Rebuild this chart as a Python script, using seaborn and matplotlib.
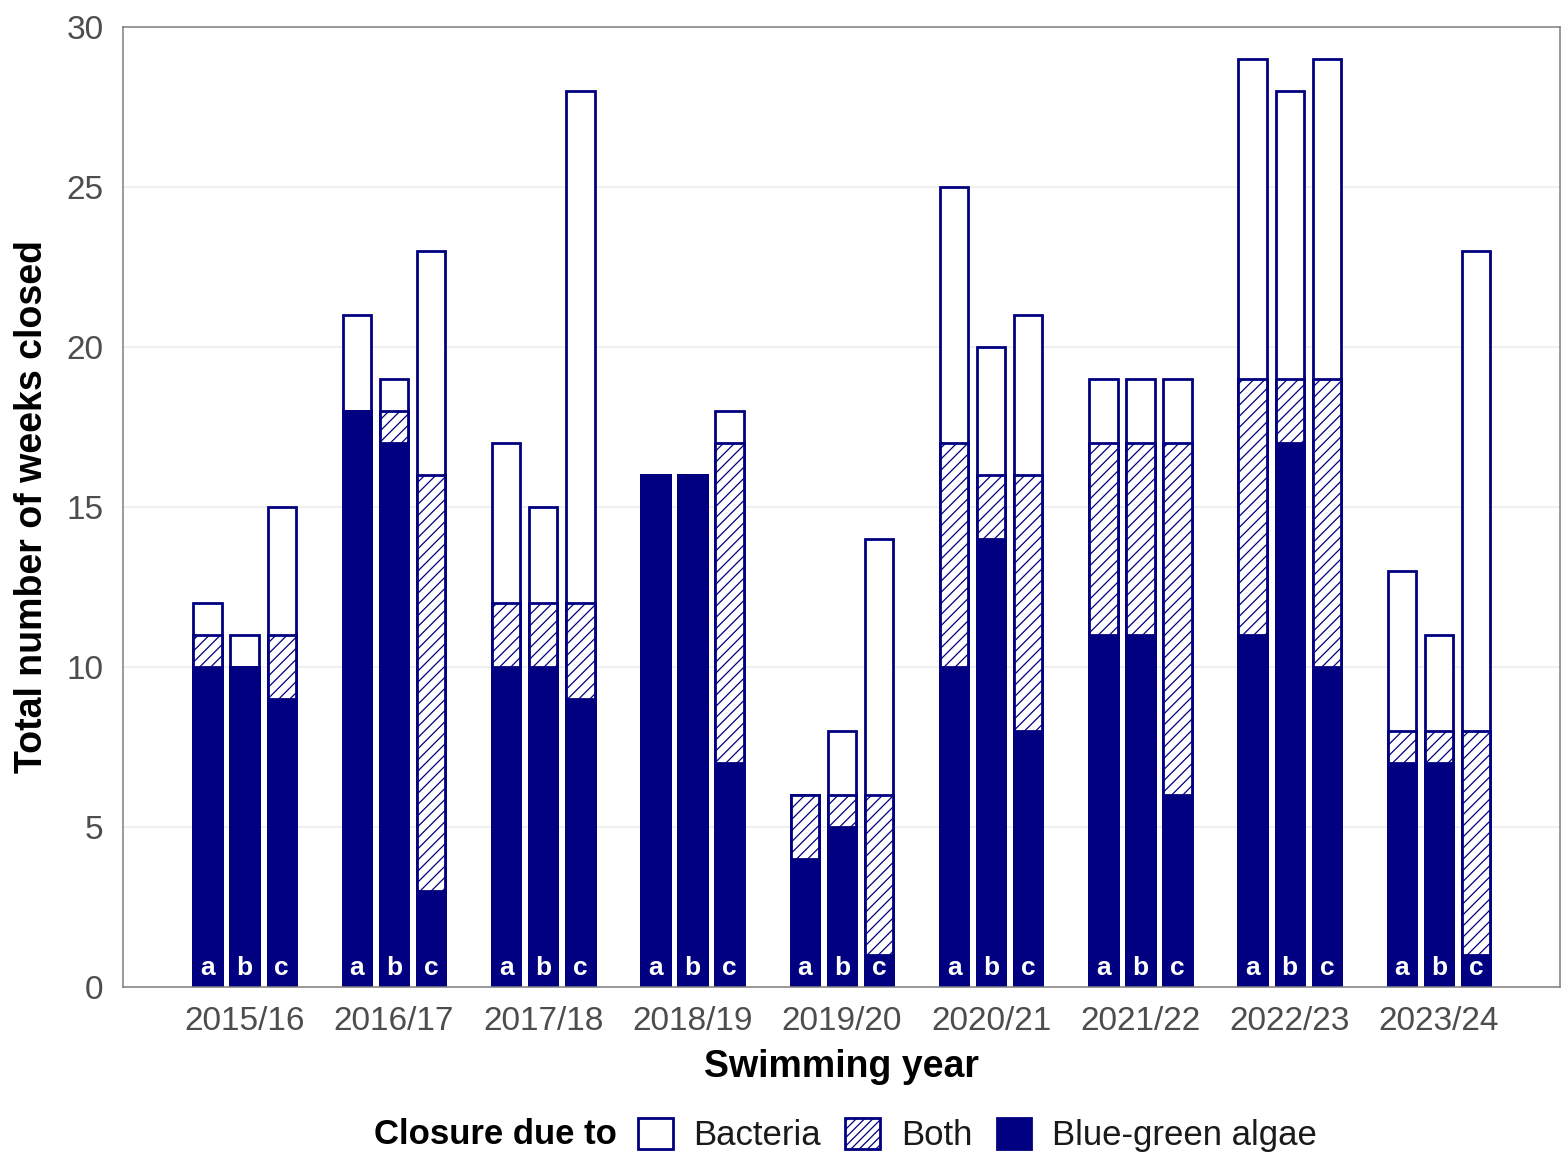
import numpy as np
import pandas as pd
import matplotlib
matplotlib.use("Agg")
import matplotlib.pyplot as plt
from matplotlib.patches import Patch
import seaborn as sns

# Swimming years and monitoring sites
years = ["2015/16", "2016/17", "2017/18", "2018/19", "2019/20",
         "2020/21", "2021/22", "2022/23", "2023/24"]
sites = ["a", "b", "c"]

# Weeks closed per site, split by cause
algae_a = [10, 18, 10, 16, 4, 10, 11, 11, 7]
both_a = [1, 0, 2, 0, 2, 7, 6, 8, 1]
bacteria_a = [1, 3, 5, 0, 0, 8, 2, 10, 5]

algae_b = [10, 17, 10, 16, 5, 14, 11, 17, 7]
both_b = [0, 1, 2, 0, 1, 2, 6, 2, 1]
bacteria_b = [1, 1, 3, 0, 2, 4, 2, 9, 3]

algae_c = [9, 3, 9, 7, 1, 8, 6, 10, 1]
both_c = [2, 13, 3, 10, 5, 8, 11, 9, 7]
bacteria_c = [4, 7, 16, 1, 8, 5, 2, 10, 15]

NAVY = "#000080"

rows = []
for site, alg, bth, bac in zip(sites, [algae_a, algae_b, algae_c],
                               [both_a, both_b, both_c],
                               [bacteria_a, bacteria_b, bacteria_c]):
    for yr, g, h, k in zip(years, alg, bth, bac):
        rows.append({"year": yr, "site": site, "algae": g,
                     "algae_both": g + h, "total": g + h + k})
df = pd.DataFrame(rows)

sns.set_theme(style="whitegrid", rc={
    "grid.color": "#EBEBEB", "grid.linewidth": 1.1,
    "axes.edgecolor": "#7F7F7F", "axes.linewidth": 1.1,
    "hatch.linewidth": 0.9,
    "text.color": "black",
})
plt.rcParams["font.family"] = ["Liberation Sans", "DejaVu Sans"]

fig = plt.figure(figsize=(15.63, 11.55), dpi=100)
ax = fig.add_axes([123 / 1563, 1 - 987 / 1155, (1560 - 123) / 1563, (987 - 27) / 1155])

common = dict(data=df, x="year", hue="site", hue_order=sites, order=years,
              width=0.745, gap=0.234, edgecolor=NAVY, linewidth=2.0,
              errorbar=None, saturation=1, legend=False, ax=ax)

# Stacked layers: total (bacteria on top), algae+both (hatched), algae (solid)
sns.barplot(y="total", palette={s: "white" for s in sites}, **common)
n0 = len(ax.patches)
sns.barplot(y="algae_both", palette={s: "white" for s in sites}, **common)
for p in ax.patches[n0:]:
    p.set_hatch("///")
sns.barplot(y="algae", palette={s: NAVY for s in sites}, **common)

# Site letters at the foot of each bar
for cont, letter in zip(ax.containers[-3:], sites):
    for p in cont.patches:
        ax.text(p.get_x() + p.get_width() / 2, 0.58, letter, color="white",
                fontsize=19, fontweight="bold", ha="center", va="center")

ax.set_xlim(-0.815, 8.81)
ax.set_ylim(0, 30)
ax.set_yticks([0, 5, 10, 15, 20, 25, 30])
ax.xaxis.grid(False)
ax.yaxis.grid(True)
ax.set_axisbelow(True)
for s in ax.spines.values():
    s.set_visible(True)
    s.set_color("#7F7F7F")

ax.tick_params(axis="both", length=0, labelsize=24, labelcolor="#4D4D4D")
ax.tick_params(axis="x", pad=14)
ax.tick_params(axis="y", pad=14)
ax.set_xlabel("Swimming year", fontsize=27, fontweight="bold", color="black", labelpad=8)
ax.set_ylabel("Total number of weeks closed", fontsize=27, fontweight="bold",
              color="black", labelpad=12)

# Legend along the bottom
handles = [
    Patch(facecolor="white", edgecolor=NAVY, linewidth=2.0),
    Patch(facecolor="white", edgecolor=NAVY, linewidth=2.0, hatch="////"),
    Patch(facecolor=NAVY, edgecolor=NAVY, linewidth=2.0),
]
labels = ["Bacteria", "Both", "Blue-green algae"]
ly = 1 - 1135 / 1155
fig.text(617 / 1563, ly, "Closure due to", fontsize=25, fontweight="bold",
         color="black", ha="right", va="center")
leg = fig.legend(handles, labels, loc="center left", bbox_to_anchor=(638 / 1563, ly),
                 ncol=3, frameon=False, fontsize=25, borderpad=0, borderaxespad=0,
                 handlelength=1.0, handleheight=1.0, handletextpad=0.6,
                 columnspacing=0.7)
for t in leg.get_texts():
    t.set_color("#1A1A1A")

fig.savefig("out.png", dpi=100)
